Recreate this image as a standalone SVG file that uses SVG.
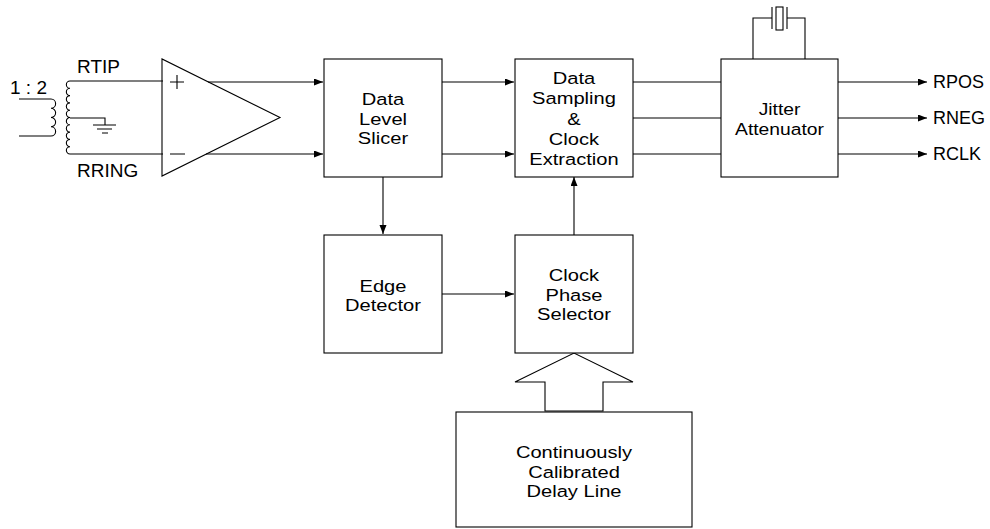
<svg xmlns="http://www.w3.org/2000/svg" width="990" height="529" viewBox="0 0 990 529">
<defs>
<style>
.ln{fill:none;stroke:#000;stroke-width:1.1}
.bx{fill:#fff;stroke:#000;stroke-width:1.1}
text{font-family:"Liberation Sans",Arial,sans-serif;font-size:17.2px;fill:#000}
.c{text-anchor:middle}
.lb{font-size:19px}
.out{font-size:18px}
</style>
<marker id="ah" markerUnits="userSpaceOnUse" markerWidth="10" markerHeight="8" refX="9" refY="3.5" orient="auto">
<path d="M0,0 L9,3.5 L0,7 z" fill="#000"/>
</marker>
</defs>
<rect width="990" height="529" fill="#fff"/>

<g id="transformer">
<path class="ln" d="M19,99 H51 a4.6,4.6 0 0 1 0,9.25 a4.6,4.6 0 0 1 0,9.25 a4.6,4.6 0 0 1 0,9.25 a4.6,4.6 0 0 1 0,9.25 H19"/>
<path class="ln" d="M163,81 H70 a3.65,3.65 0 0 0 0,7.3 a3.65,3.65 0 0 0 0,7.3 a3.65,3.65 0 0 0 0,7.3 a3.65,3.65 0 0 0 0,7.3 a3.65,3.65 0 0 0 0,7.3 a3.65,3.65 0 0 0 0,7.3 a3.65,3.65 0 0 0 0,7.3 a3.65,3.65 0 0 0 0,7.3 a3.65,3.65 0 0 0 0,7.3 a3.65,3.65 0 0 0 0,7.3 H163"/>
<path class="ln" d="M70,118 H105 V125 M93,125 H116 M97,129 H112 M102,133 H108"/>
<text class="lb" x="10" y="94">1 : 2</text>
<text class="lb" x="77" y="73">RTIP</text>
<text class="lb" x="77" y="177">RRING</text>
</g>

<g id="amplifier">
<polygon class="ln" points="162,59 162,176 280,117.5"/>
<path class="ln" d="M170,82 H184 M177,75 V89 M170,154 H185"/>
</g>

<g id="crystal">
<path class="ln" d="M753,59 V18 H772 M805,59 V18 H787 M772,7 V29 M787,7 V29"/>
<rect class="ln" x="776" y="7" width="7" height="23"/>
</g>

<g id="connectors">
<path class="ln" d="M208,82 H323" marker-end="url(#ah)"/>
<path class="ln" d="M206,154 H323" marker-end="url(#ah)"/>
<path class="ln" d="M442,82 H514" marker-end="url(#ah)"/>
<path class="ln" d="M442,154 H514" marker-end="url(#ah)"/>
<path class="ln" d="M383,177 V234" marker-end="url(#ah)"/>
<path class="ln" d="M442,294 H514" marker-end="url(#ah)"/>
<path class="ln" d="M574,235 V177" marker-end="url(#ah)"/>
<path class="ln" d="M633,82 H721 M633,118 H721 M633,154 H721"/>
<path class="ln" d="M838,82 H927" marker-end="url(#ah)"/>
<path class="ln" d="M838,118 H927" marker-end="url(#ah)"/>
<path class="ln" d="M838,154 H927" marker-end="url(#ah)"/>
<polygon class="ln" points="545,411 545,382 515,382 574,353 633,382 603,382 603,411"/>
</g>

<g id="slicer">
<rect class="bx" x="324" y="59" width="118" height="118"/>
<g transform="translate(383,0) scale(1.17,1)">
<text class="c" x="0" y="105.2">Data</text>
<text class="c" x="0" y="124.7">Level</text>
<text class="c" x="0" y="144.2">Slicer</text>
</g>
</g>

<g id="sampling">
<rect class="bx" x="515" y="59" width="118" height="118"/>
<g transform="translate(574,0) scale(1.17,1)">
<text class="c" x="0" y="84">Data</text>
<text class="c" x="0" y="104.3">Sampling</text>
<text class="c" x="0" y="124.6">&amp;</text>
<text class="c" x="0" y="144.9">Clock</text>
<text class="c" x="0" y="165.2">Extraction</text>
</g>
</g>

<g id="jitter">
<rect class="bx" x="721" y="59" width="117" height="118"/>
<g transform="translate(779.5,0) scale(1.12,1)">
<text class="c" x="0" y="115.3">Jitter</text>
<text class="c" x="0" y="134.8">Attenuator</text>
</g>
</g>

<g id="edge">
<rect class="bx" x="324" y="235" width="118" height="118"/>
<g transform="translate(383,0) scale(1.17,1)">
<text class="c" x="0" y="291.8">Edge</text>
<text class="c" x="0" y="311.3">Detector</text>
</g>
</g>

<g id="phase">
<rect class="bx" x="515" y="235" width="118" height="118"/>
<g transform="translate(574,0) scale(1.17,1)">
<text class="c" x="0" y="281.5">Clock</text>
<text class="c" x="0" y="301">Phase</text>
<text class="c" x="0" y="320.5">Selector</text>
</g>
</g>

<g id="delay">
<rect class="bx" x="456" y="412" width="236" height="115"/>
<g transform="translate(574,0) scale(1.17,1)">
<text class="c" x="0" y="458.2">Continuously</text>
<text class="c" x="0" y="477.7">Calibrated</text>
<text class="c" x="0" y="497.2">Delay Line</text>
</g>
</g>

<g id="outputs">
<text class="out" x="933" y="88">RPOS</text>
<text class="out" x="933" y="124">RNEG</text>
<text class="out" x="933" y="160">RCLK</text>
</g>
</svg>
